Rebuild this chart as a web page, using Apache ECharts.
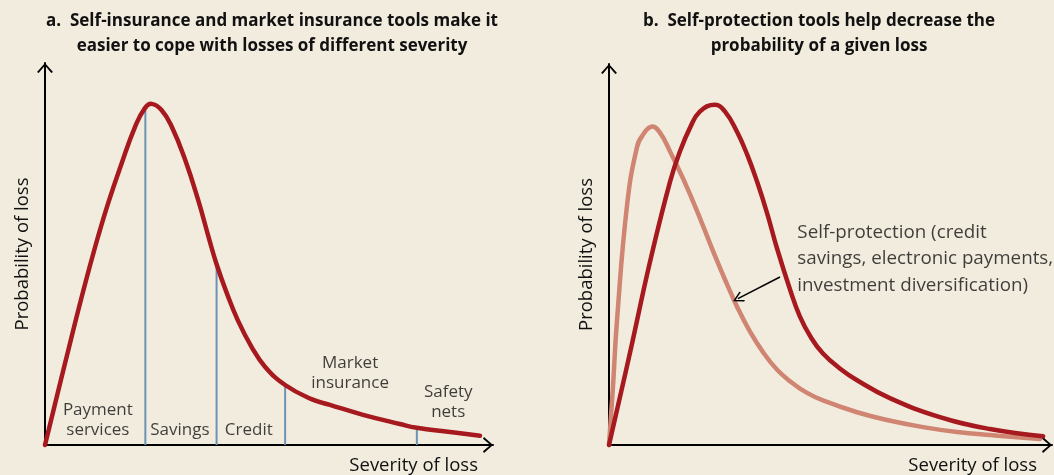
<!DOCTYPE html>
<html>
<head>
<meta charset="utf-8">
<script src="https://cdn.jsdelivr.net/npm/echarts@6/dist/echarts.min.js"></script>
<style>
  html, body { margin: 0; padding: 0; background: #f2ecde; }
  #chart { width: 1054px; height: 475px; }
</style>
</head>
<body>
<div id="chart"></div>
<script>
// panel a: loss distribution (severity, probability) in axis units 0..10
const curveA = [
  [0, 0], [0.3, 1.44], [0.56, 2.67], [0.82, 3.88], [1.12, 5.19], [1.41, 6.33],
  [1.71, 7.37], [2.01, 8.33], [2.23, 8.82], [2.38, 8.93], [2.6, 8.77], [2.83, 8.33],
  [3.13, 7.46], [3.42, 6.41], [3.65, 5.45], [3.83, 4.73], [4.06, 3.97], [4.31, 3.25],
  [4.61, 2.57], [4.91, 2.05], [5.36, 1.57], [5.95, 1.2], [6.36, 1.05], [7.1, 0.79],
  [7.92, 0.55], [8.3, 0.45], [9.04, 0.34], [9.71, 0.24]
];
// divider lines between tool ranges
const dividerX = [2.24, 3.83, 5.36, 8.3];
const dividerTop = [8.85, 4.73, 1.57, 0.45];
// tool labels
const toolNames = ['Payment\nservices', 'Savings', 'Credit', 'Market\ninsurance', 'Safety\nnets'];
const toolX = [1.18, 3.01, 4.55, 6.81, 9.0];
const toolY = [0.65, 0.39, 0.39, 1.88, 1.13];

// panel b: before and after self-protection
const curveBefore = [
  [0, 0], [0.47, 2.4], [0.93, 4.83], [1.38, 6.92], [1.6, 7.7], [1.83, 8.33],
  [2.05, 8.75], [2.39, 8.93], [2.62, 8.75], [2.89, 8.22], [3.12, 7.62], [3.34, 6.92],
  [3.57, 6.08], [3.79, 5.17], [4.09, 4.07], [4.31, 3.37], [4.56, 2.82], [4.83, 2.4],
  [5.21, 2.01], [5.6, 1.7], [6.34, 1.23], [7.47, 0.73], [8.6, 0.42], [9.8, 0.23]
];
const curveAfter = [
  [0, 0], [0.09, 1.54], [0.18, 3.26], [0.41, 6.32], [0.63, 7.81], [0.77, 8.15],
  [0.97, 8.36], [1.15, 8.2], [1.38, 7.7], [1.83, 6.58], [2.44, 4.83], [2.66, 4.23],
  [2.89, 3.63], [3.18, 2.98], [3.48, 2.43], [3.79, 1.98], [4.09, 1.67], [4.45, 1.38],
  [4.83, 1.17], [5.6, 0.86], [6.3, 0.65], [7.09, 0.47], [7.86, 0.34], [8.6, 0.26], [9.73, 0.16]
];
const noteText = 'Self-protection (credit\nsavings, electronic payments,\ninvestment diversification)';
const notePos = [4.24, 4.88];
const noteArrow = [[3.86, 4.41], [2.91, 3.84]];

const titleA = 'a.  Self-insurance and market insurance tools make it\neasier to cope with losses of different severity';
const titleB = 'b.  Self-protection tools help decrease the\nprobability of a given loss';

const FONT = '"Open Sans", sans-serif';
const RED = '#a6191e';
const PINK = '#cf8571';
const BLUE = '#6b93b5';
const INK = '#111';

// open chevron, pointing up
const chevron = 'path://M0,9L8,0L16,9L14.3,10L8,2.6L1.7,10Z';

const axisLine = {
    show: true,
    symbol: ['none', chevron],
    symbolSize: [16, 10],
    symbolOffset: [0, -5],
    lineStyle: { color: '#000', width: 2 }
};

const makeX = (gridIndex) => ({
    type: 'value', gridIndex, min: 0, max: 10,
    axisLine, axisTick: { show: false }, axisLabel: { show: false }, splitLine: { show: false },
    name: 'Severity of loss', nameLocation: 'end', nameGap: -15,
    nameTextStyle: { fontFamily: FONT, fontSize: 18.5, color: INK, align: 'right', verticalAlign: 'top', padding: [11, 0, 0, 0] }
});
const makeY = (gridIndex) => ({
    type: 'value', gridIndex, min: 0, max: 10,
    axisLine, axisTick: { show: false }, axisLabel: { show: false }, splitLine: { show: false },
    name: 'Probability of loss', nameLocation: 'middle', nameGap: 13,
    nameTextStyle: { fontFamily: FONT, fontSize: 18.5, color: INK }
});

// smooth curve through the read points, drawn through the axis scales
const curve = (data, color, idx) => ({
    type: 'custom', coordinateSystem: 'cartesian2d', xAxisIndex: idx, yAxisIndex: idx,
    data, z: 5, silent: true,
    renderItem: (params, api) => {
        if (params.dataIndex !== 0) return null;
        const points = data.map((d) => api.coord(d));
        return {
            type: 'polyline',
            shape: { points, smooth: 0.45, smoothConstraint: false },
            style: { stroke: color, lineWidth: 4.5, fill: null, lineCap: 'round', lineJoin: 'round' }
        };
    }
});

const dividerSeries = dividerX.map((x, i) => ({
    type: 'line', xAxisIndex: 0, yAxisIndex: 0,
    data: [[x, 0], [x, dividerTop[i]]],
    symbol: 'none', z: 3,
    lineStyle: { color: BLUE, width: 2 }
}));

const chart = echarts.init(document.getElementById('chart'));
chart.setOption({
    animation: false,
    backgroundColor: '#f2ecde',
    title: [
        { text: titleA, left: 272, top: 9, textAlign: 'center', padding: 0,
          textStyle: { fontFamily: FONT, fontSize: 17, fontWeight: 'bold', color: '#111', lineHeight: 25 } },
        { text: titleB, left: 819, top: 9, textAlign: 'center', padding: 0,
          textStyle: { fontFamily: FONT, fontSize: 17, fontWeight: 'bold', color: '#111', lineHeight: 25 } }
    ],
    grid: [
        { left: 45, top: 63, width: 448, height: 382 },
        { left: 609, top: 64, width: 443, height: 383 }
    ],
    xAxis: [makeX(0), makeX(1)],
    yAxis: [makeY(0), makeY(1)],
    series: [
        ...dividerSeries,
        curve(curveA, RED, 0),
        {
            type: 'scatter', xAxisIndex: 0, yAxisIndex: 0, symbolSize: 1,
            itemStyle: { color: 'transparent' },
            data: toolNames.map((n, i) => ({ name: n, value: [toolX[i], toolY[i]] })),
            label: {
                show: true, position: 'inside', formatter: (p) => p.name,
                fontFamily: FONT, fontSize: 17, color: INK, lineHeight: 20, align: 'center'
            }
        },
        curve(curveAfter, PINK, 1),
        curve(curveBefore, RED, 1),
        {
            type: 'scatter', xAxisIndex: 1, yAxisIndex: 1, symbolSize: 1,
            itemStyle: { color: 'transparent' },
            data: [{ name: noteText, value: notePos }],
            label: {
                show: true, position: 'right', distance: 0, formatter: (p) => p.name,
                fontFamily: FONT, fontSize: 18.8, color: INK, lineHeight: 26.5, align: 'left'
            }
        },
        {
            type: 'lines', coordinateSystem: 'cartesian2d', xAxisIndex: 1, yAxisIndex: 1,
            symbol: ['none', chevron], symbolSize: 11, z: 6,
            lineStyle: { color: '#000', width: 1.5, opacity: 1 },
            data: [{ coords: noteArrow }]
        }
    ]
});
</script>
</body>
</html>
